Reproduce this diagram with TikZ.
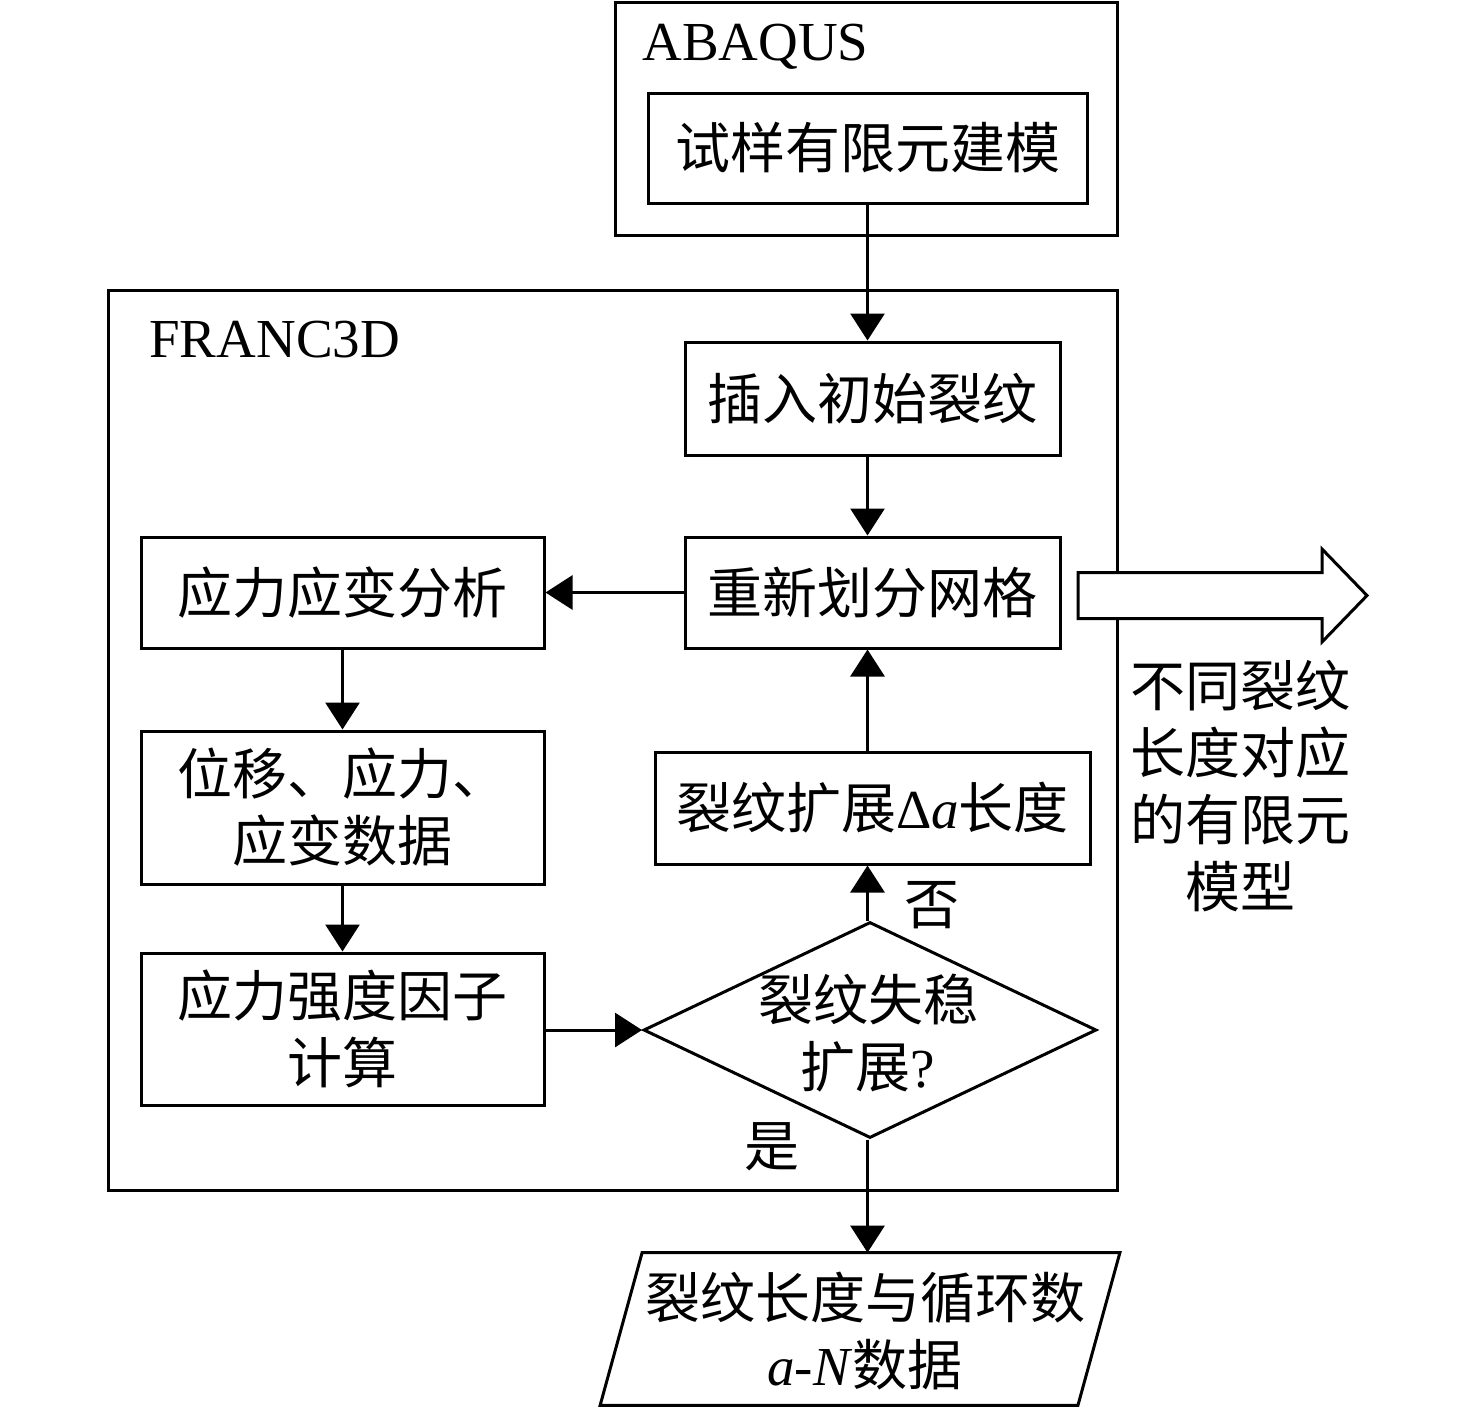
\documentclass[tikz,border=0pt]{standalone}
\usepackage{fontspec}
\setmainfont{Liberation Serif}
\newfontfamily\cjk{Noto Sans CJK SC}
\usetikzlibrary{arrows.meta,shapes.geometric,calc}
\begin{document}
\begin{tikzpicture}[x=0.5pt,y=-0.5pt,
  every node/.style={font=\fontsize{27.5pt}{33.5pt}\selectfont},
  box/.style={draw,line width=1.5pt,rectangle,inner sep=0pt,align=center},
  lbl/.style={inner sep=0pt,align=center},
  conn/.style={line width=1.5pt,-{Triangle[length=13.5pt,width=17pt]}},
  bigarrow/.style={draw,line width=1.5pt,fill=white,line join=miter}
]
\useasboundingbox (0,0) rectangle (1476,1408);
% outer containers
\node[box,minimum width=251pt,minimum height=116.5pt] (abq) at (866,118.5) {};
\node[lbl,anchor=base west] (abqlbl) at (642,60) {ABAQUS};
\node[box,minimum width=504.5pt,minimum height=450pt] (franc) at (612.5,740) {};
\node[lbl,anchor=base west] (franclbl) at (149,357) {FRANC3D};
% boxes
\node[box,minimum width=219.5pt,minimum height=55pt] (model) at (867.5,148) {\cjk 试样有限元建模};
\node[box,minimum width=187.5pt,minimum height=56.5pt] (insert) at (872.5,398.5) {\cjk 插入初始裂纹};
\node[box,minimum width=187.5pt,minimum height=55.5pt] (remesh) at (872.5,592.5) {\cjk 重新划分网格};
\node[box,minimum width=201.5pt,minimum height=55.5pt] (stress) at (342.5,592.5) {\cjk 应力应变分析};
\node[box,minimum width=201.5pt,minimum height=76.5pt] (disp) at (342.5,807.5) {\cjk 位移、应力、\\\cjk 应变数据};
\node[box,minimum width=201.5pt,minimum height=76pt] (sif) at (342.5,1029) {\cjk 应力强度因子\\\cjk 计算};
\node[box,minimum width=217.5pt,minimum height=56pt] (grow) at (872.5,808) {{\cjk 裂纹扩展}Δ\textit{a}{\cjk 长度}};
\node[draw,diamond,line width=1.5pt,inner sep=0pt,minimum width=226.5pt,minimum height=108pt] (dia) at (870,1030) {};
\node[lbl] (diat) at (868,1033) {\cjk 裂纹失稳\\{\cjk 扩展}?};
\node[lbl,minimum width=238.5pt,minimum height=76pt] (out) at (860,1329) {};
\node[lbl] (outt) at (865,1331) {\cjk 裂纹长度与循环数\\\textit{a}-\textit{N}{\cjk 数据}};
\draw[line width=1.5pt,line join=miter] ($(out.north west)+(21,0)$) -- ($(out.north east)+(21,0)$) -- ($(out.south east)+(-21,0)$) -- ($(out.south west)+(-21,0)$) -- cycle;
% labels
\node[lbl] (no) at (932,905) {\cjk 否};
\node[lbl] (yes) at (772,1147) {\cjk 是};
\node[lbl] (side) at (1240,786) {\cjk 不同裂纹\\\cjk 长度对应\\\cjk 的有限元\\\cjk 模型};
% big hollow arrow
\draw[bigarrow] (1078,572.5) -- (1322,572.5) -- (1322,549) -- (1367,595.5) -- (1322,642) -- (1322,618.5) -- (1078,618.5) -- cycle;
% connectors
\draw[conn] (model.south) -- (model.south |- insert.north);
\draw[conn] (model.south |- insert.south) -- (model.south |- remesh.north);
\draw[conn] (remesh.west) -- (stress.east);
\draw[conn] (stress.south) -- (disp.north);
\draw[conn] (disp.south) -- (sif.north);
\draw[conn] (sif.east |- dia.west) -- (dia.west);
\draw[conn] (model.south |- dia.north) -- (model.south |- grow.south);
\draw[conn] (model.south |- grow.north) -- (model.south |- remesh.south);
\draw[conn] (model.south |- dia.south) -- (model.south |- out.north);
\end{tikzpicture}
\end{document}
